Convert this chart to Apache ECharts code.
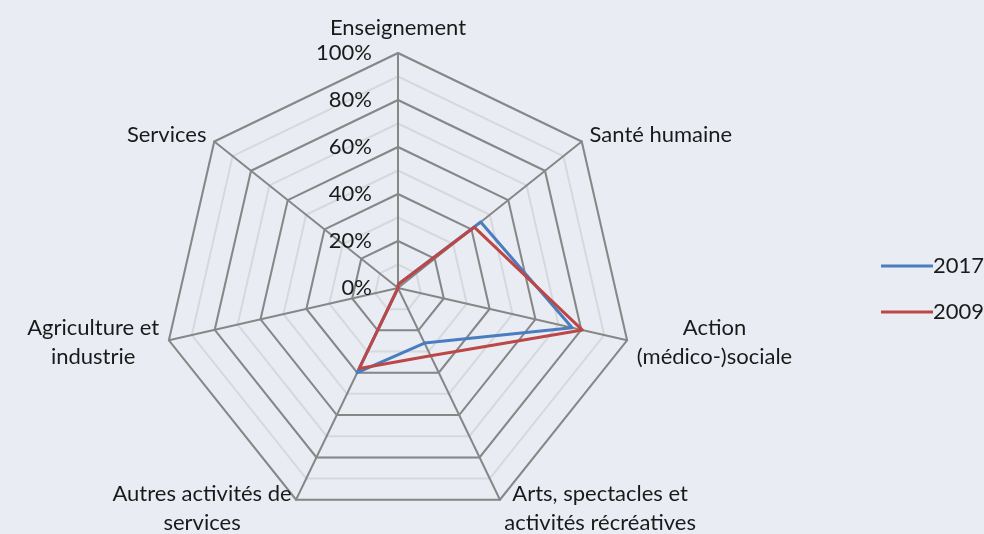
<!DOCTYPE html>
<html>
<head>
<meta charset="utf-8">
<script src="https://cdn.jsdelivr.net/npm/echarts@6/dist/echarts.min.js"></script>
<style>
  html, body { margin: 0; padding: 0; background: #e9edf3; }
  #chart { width: 984px; height: 534px; }
</style>
</head>
<body>
<div id="chart"></div>
<script>
// axes in clockwise order, starting at the top
const categories = [
  'Enseignement',
  'Santé humaine',
  'Action\n(médico-)sociale',
  'Arts, spectacles et\nactivités récréatives',
  'Autres activités de\nservices',
  'Agriculture et\nindustrie',
  'Services'
]
const values2017 = [1.5, 45, 76, 26, 40, 0, 0]
const values2009 = [1.5, 41.5, 80.5, 32, 38, 0, 0]
const seriesNames = ['2017', '2009']

const FONT = 'Lato'
const FONT_SIZE = 22
const CENTER = [398, 288]
const RADIUS = 235

// echarts lays radar indicators out counter-clockwise, so reverse after the first
const order = [0].concat(categories.map((_, i) => i).slice(1).reverse())
const pick = arr => order.map(i => arr[i])

const majorIndicators = pick(categories).map((name, i) => ({
  name: name,
  min: 0,
  max: 100,
  axisLabel: { show: i === 0 }
}))
const minorIndicators = pick(categories).map(() => ({ name: '', min: 0, max: 100 }))

const chart = echarts.init(document.getElementById('chart'))
chart.setOption({
  backgroundColor: '#e9edf3',
  textStyle: { fontFamily: FONT },
  legend: {
    orient: 'vertical',
    left: 876,
    top: 250,
    itemWidth: 52,
    itemHeight: 3,
    itemGap: 24,
    icon: 'rect',
    textStyle: { fontFamily: FONT, fontSize: FONT_SIZE, color: '#1a1a1a', padding: [0, 0, 0, -5] },
    data: seriesNames
  },
  radar: [
    {
      center: CENTER,
      radius: RADIUS,
      shape: 'polygon',
      splitNumber: 10,
      indicator: minorIndicators,
      axisName: { show: false },
      axisLine: { show: false },
      axisLabel: { show: false },
      splitArea: { show: false },
      splitLine: { lineStyle: { color: '#d5d9de', width: 2 } }
    },
    {
      center: CENTER,
      radius: RADIUS,
      shape: 'polygon',
      splitNumber: 5,
      indicator: majorIndicators,
      nameGap: 10,
      axisName: {
        color: '#1a1a1a',
        fontFamily: FONT,
        fontSize: FONT_SIZE,
        lineHeight: 29,
        formatter: v => '{a|' + v.split('\n').join('}\n{a|') + '}',
        rich: { a: { align: 'center', fontFamily: FONT, fontSize: FONT_SIZE, lineHeight: 29, color: '#1a1a1a' } }
      },
      axisLine: { show: true, lineStyle: { color: '#878787', width: 2 } },
      axisTick: { show: false },
      axisLabel: {
        show: false,
        color: '#1a1a1a',
        fontFamily: FONT,
        fontSize: FONT_SIZE,
        margin: 26,
        formatter: v => v + '%'
      },
      splitArea: { show: false },
      splitLine: { lineStyle: { color: '#878787', width: 2 } }
    }
  ],
  series: [
    {
      type: 'radar',
      radarIndex: 1,
      symbol: 'none',
      data: [
        { name: seriesNames[0], value: pick(values2017), lineStyle: { color: '#4a7cc0', width: 3 }, itemStyle: { color: '#4a7cc0' } },
        { name: seriesNames[1], value: pick(values2009), lineStyle: { color: '#bd4747', width: 3 }, itemStyle: { color: '#bd4747' } }
      ]
    }
  ]
})
</script>
</body>
</html>
